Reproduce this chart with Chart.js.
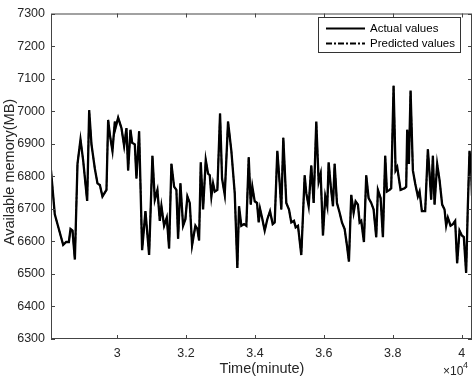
<!DOCTYPE html>
<html>
<head>
<meta charset="utf-8">
<script src="https://cdn.jsdelivr.net/npm/chart.js@4.4.1/dist/chart.umd.min.js"></script>
<style>
  html, body { margin: 0; padding: 0; background: #fff; }
  canvas { display: block; }
</style>
</head>
<body>
<canvas id="mem-chart" width="474" height="378"></canvas>
<script>
// time in minutes
const timeMinutes = [
  28080, 28190, 28434, 28521, 28599, 28646, 28704, 28773, 28849, 28936,
  29014, 29130, 29188, 29255, 29353, 29429, 29498, 29574, 29690, 29739,
  29788, 29864, 29933, 29951, 30029, 30125, 30203, 30270, 30319, 30386,
  30435, 30513, 30560, 30638, 30725, 30821, 30928, 31024, 31093, 31169,
  31238, 31285, 31363, 31441, 31508, 31575, 31653, 31720, 31769, 31836,
  31914, 31981, 32039, 32108, 32175, 32271, 32329, 32378, 32427, 32494,
  32572, 32639, 32688, 32735, 32784, 32833, 32909, 32987, 33045, 33123,
  33219, 33315, 33413, 33489, 33538, 33605, 33683, 33750, 33819, 33877,
  33924, 33993, 34060, 34109, 34147, 34205, 34283, 34359, 34437, 34515,
  34573, 34649, 34718, 34765, 34823, 34910, 34988, 35055, 35133, 35182,
  35249, 35345, 35443, 35490, 35559, 35635, 35704, 35780, 35849, 35907,
  35974, 36041, 36099, 36139, 36197, 36264, 36313, 36380, 36458, 36525,
  36603, 36670, 36728, 36795, 36864, 36922, 36989, 37038, 37085, 37163,
  37230, 37299, 37375, 37444, 37520, 37569, 37647, 37714, 37781, 37830,
  37908, 37955, 38024, 38082, 38129, 38227, 38343, 38390, 38419, 38468,
  38517, 38584, 38651, 38729, 38778, 38845, 38941, 39019, 39068, 39115,
  39164, 39213, 39289, 39358, 39434, 39503, 39550, 39599, 39677, 39744,
  39811, 39869, 39938, 40005, 40063, 40130, 40179, 40228, 40275, 40300
];

// available memory, MB
const actualMemory = [
  6818, 6683, 6589, 6598, 6598, 6638, 6633, 6544, 6838, 6913,
  6848, 6724, 7003, 6898, 6823, 6778, 6773, 6738, 6758, 6973,
  6928, 6878, 6968, 6948, 6980, 6948, 6893, 6948, 6818, 6943,
  6903, 6898, 6793, 6938, 6573, 6693, 6558, 6863, 6728, 6758,
  6663, 6708, 6648, 6673, 6578, 6838, 6768, 6758, 6608, 6778,
  6648, 6668, 6738, 6718, 6588, 6648, 6638, 6603, 6843, 6698,
  6850, 6808, 6803, 6738, 6778, 6753, 6758, 6993, 6793, 6743,
  6968, 6878, 6748, 6518, 6708, 6648, 6653, 6648, 6858, 6713,
  6768, 6723, 6718, 6658, 6700, 6673, 6633, 6668, 6693, 6653,
  6658, 6878, 6778, 6698, 6918, 6718, 6698, 6658, 6663, 6643,
  6648, 6558, 6803, 6748, 6708, 6833, 6718, 6968, 6783, 6808,
  6618, 6738, 6708, 6843, 6773, 6708, 6838, 6718, 6688, 6658,
  6638, 6588, 6538, 6743, 6688, 6723, 6713, 6658, 6663, 6598,
  6803, 6733, 6718, 6698, 6613, 6758, 6733, 6613, 6863, 6753,
  6758, 6763, 7078, 6818, 6828, 6758, 6763, 6768, 6943, 6838,
  7063, 6818, 6778, 6738, 6753, 6693, 6693, 6883, 6808, 6728,
  6863, 6713, 6838, 6788, 6713, 6698, 6648, 6673, 6648, 6653,
  6663, 6533, 6633, 6618, 6613, 6503, 6708, 6878, 6818, 6740
];

// the predicted curve sits on top of the actual one in the figure
const predictedMemory = actualMemory;

const xTicks = [30000, 32000, 34000, 36000, 38000, 40000];
const yTicks = [6300, 6400, 6500, 6600, 6700, 6800, 6900, 7000, 7100, 7200, 7300];

const Config = {
  font: `"Liberation Sans", Arial, Helvetica, sans-serif`,
  axis: "#444444",
  text: "#262626",
  tickLen: 4,
};

const toPoints = (ys) => ys.map((y, i) => ({ x: timeMinutes[i], y }));

const framePlugin = {
  id: "frame",
  afterDraw(chart) {
    const c = chart.ctx;
    const { left, right, top, bottom } = chart.chartArea;
    const xs = chart.scales.x, ys = chart.scales.y;
    c.save();
    c.strokeStyle = Config.axis;
    c.lineWidth = 1;
    c.strokeRect(left + 0.5, top + 0.5, right - left - 1, bottom - top - 1);
    c.beginPath();
    xTicks.forEach((v) => {
      const px = Math.round(xs.getPixelForValue(v)) + 0.5;
      c.moveTo(px, bottom); c.lineTo(px, bottom - Config.tickLen);
      c.moveTo(px, top); c.lineTo(px, top + Config.tickLen);
    });
    yTicks.forEach((v) => {
      const py = Math.round(ys.getPixelForValue(v)) + 0.5;
      c.moveTo(left, py); c.lineTo(left + Config.tickLen, py);
      c.moveTo(right, py); c.lineTo(right - Config.tickLen, py);
    });
    c.stroke();

    // axis titles
    c.fillStyle = Config.text;
    c.font = `14.5px ${Config.font}`;
    c.textAlign = "center";
    c.textBaseline = "middle";
    c.fillText("Time(minute)", 262, 369);
    c.save();
    c.translate(10, 172);
    c.rotate(-Math.PI / 2);
    c.fillText("Available memory(MB)", 0, 0);
    c.restore();

    // exponent label
    c.textAlign = "left";
    c.font = `12px ${Config.font}`;
    c.fillText("\u00d710", 443, 372);
    c.font = `9px ${Config.font}`;
    c.fillText("4", 463, 366);

    // legend
    c.fillStyle = "#fff";
    c.fillRect(318.5, 17.5, 142, 35);
    c.strokeStyle = "#333";
    c.strokeRect(318.5, 17.5, 142, 35);
    c.strokeStyle = "#000";
    c.lineWidth = 2;
    c.beginPath();
    c.moveTo(326, 28.5); c.lineTo(365, 28.5);
    c.stroke();
    c.setLineDash([6, 2, 2, 2]);
    c.beginPath();
    c.moveTo(326, 43.5); c.lineTo(365, 43.5);
    c.stroke();
    c.setLineDash([]);
    c.fillStyle = "#000";
    c.font = `11.5px ${Config.font}`;
    c.textBaseline = "middle";
    c.fillText("Actual values", 370, 28.5);
    c.fillText("Predicted values", 370, 43.5);
    c.restore();
  },
};

new Chart(document.getElementById("mem-chart"), {
  type: "line",
  data: {
    datasets: [
      {
        label: "Predicted values",
        data: toPoints(predictedMemory),
        borderColor: "#000",
        borderWidth: 1.5,
        borderDash: [6, 2, 2, 2],
        pointRadius: 0,
        tension: 0,
      },
      {
        label: "Actual values",
        data: toPoints(actualMemory),
        borderColor: "#000",
        borderWidth: 2.3,
        pointRadius: 0,
        tension: 0,
      },
    ],
  },
  options: {
    responsive: false,
    animation: false,
    layout: { padding: { top: 6, right: 2, left: 0, bottom: 0 } },
    plugins: { legend: { display: false }, tooltip: { enabled: false } },
    scales: {
      x: {
        type: "linear",
        min: 28080,
        max: 40300,
        afterBuildTicks: (s) => { s.ticks = xTicks.map((v) => ({ value: v })); },
        afterFit: (s) => { s.height = 39; },
        grid: { display: false, drawTicks: false },
        border: { display: false },
        ticks: {
          padding: 7,
          maxRotation: 0,
          color: Config.text,
          font: { size: 12.5, family: Config.font },
          callback: (v) => String(v / 10000),
        },
      },
      y: {
        min: 6300,
        max: 7300,
        afterBuildTicks: (s) => { s.ticks = yTicks.map((v) => ({ value: v })); },
        afterFit: (s) => { s.width = 51; },
        grid: { display: false, drawTicks: false },
        border: { display: false },
        ticks: {
          padding: 6,
          color: Config.text,
          font: { size: 12.5, family: Config.font },
          callback: (v) => String(v),
        },
      },
    },
  },
  plugins: [framePlugin],
});
</script>
</body>
</html>
